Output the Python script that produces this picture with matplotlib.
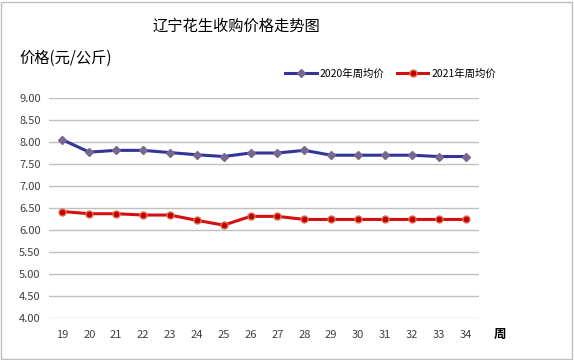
import matplotlib
matplotlib.use("Agg")
import matplotlib.pyplot as plt
from matplotlib.patches import Rectangle

plt.rcParams['font.family'] = ['Noto Sans CJK SC', 'DejaVu Sans']

weeks = [19, 20, 21, 22, 23, 24, 25, 26, 27, 28, 29, 30, 31, 32, 33, 34]
price_2020 = [8.05, 7.77, 7.81, 7.81, 7.76, 7.71, 7.67, 7.75, 7.75, 7.81,
              7.70, 7.70, 7.70, 7.70, 7.67, 7.67]
price_2021 = [6.42, 6.37, 6.37, 6.34, 6.34, 6.22, 6.11, 6.31, 6.31, 6.24,
              6.24, 6.24, 6.24, 6.24, 6.24, 6.24]
y_ticks = [4.0, 4.5, 5.0, 5.5, 6.0, 6.5, 7.0, 7.5, 8.0, 8.5, 9.0]

W, H = 574, 360
fig = plt.figure(figsize=(W / 100, H / 100), dpi=100)
fig.patches.append(Rectangle((1 / W, 1 / H), 1 - 3 / W, 1 - 3 / H, transform=fig.transFigure,
                             fill=False, edgecolor='#bfbfbf', linewidth=1))

ax = fig.add_axes([49 / W, 42 / H, 430 / W, 220 / H])
x = list(range(len(weeks)))
ax.plot(x, price_2020, color='#333399', linewidth=2.2, marker='D', markersize=4.5,
        markerfacecolor='#76688f', markeredgecolor='#76688f', label='2020年周均价')
ax.plot(x, price_2021, color='#d40f0f', linewidth=2.2, marker='o', markersize=5,
        markerfacecolor='#c00000', markeredgecolor='#e07050', label='2021年周均价')

ax.set_xlim(-0.5, len(weeks) - 0.5)
ax.set_ylim(4.0, 9.0)
ax.set_xticks(x)
ax.set_xticklabels([str(w) for w in weeks], fontsize=8, color='#404040')
ax.set_yticks(y_ticks)
ax.set_yticklabels(['%.2f' % v for v in y_ticks], fontsize=8, color='#404040')
ax.tick_params(length=0, pad=6)
ax.tick_params(axis='x', pad=9)
for s in ax.spines.values():
    s.set_visible(False)
ax.grid(axis='y', color='#c0c0c0', linewidth=1)
ax.set_axisbelow(True)

fig.text(236 / W, 1 - 26 / H, '辽宁花生收购价格走势图', fontsize=11, ha='center', va='center')
fig.text(19 / W, 1 - 58 / H, '价格(元/公斤)', fontsize=11, ha='left', va='center')
fig.text(500 / W, 1 - 334 / H, '周', fontsize=9, fontweight='bold', ha='center', va='center')

ax.legend(loc='lower left', bbox_to_anchor=(276 / W, 1 - 88 / H), bbox_transform=fig.transFigure,
          ncol=2, frameon=False, fontsize=7.5, handlelength=3, columnspacing=1.2, handletextpad=0.3)

fig.savefig('out.png', dpi=100)
